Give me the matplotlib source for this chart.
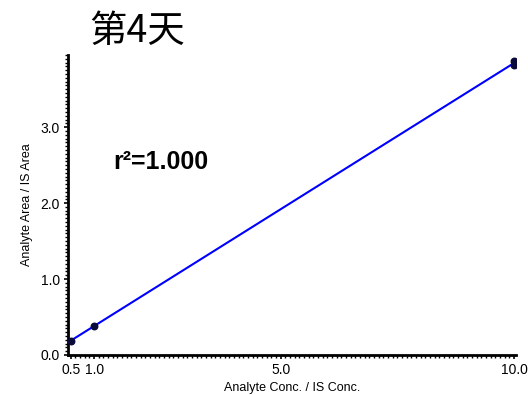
import numpy as np
import matplotlib
matplotlib.use('Agg')
import matplotlib.pyplot as plt
from matplotlib.ticker import MultipleLocator

plt.rcParams['font.family'] = ['Liberation Sans', 'DejaVu Sans']

# calibration standards (analyte/IS concentration ratio vs area ratio)
conc = [0.5, 1.0, 10.0, 10.0]
area = [0.19, 0.38, 3.82, 3.87]
xticks = [0.5, 1.0, 5.0, 10.0]
yticks = [0.0, 1.0, 2.0, 3.0]
title = '第4天'
r2_text = 'r²=1.000'

fig = plt.figure(figsize=(5.28, 3.95), dpi=100)
ax = fig.add_axes([68/528, 1 - 355/395, 448/528, 300/395])

# linear least-squares fit
slope, icept = np.polyfit(conc, area, 1)
xmin, xmax = 0.44, 10.04
xf = np.array([xmin, xmax])
ax.plot(xf, slope * xf + icept, color='#0000ff', lw=1.5, zorder=2)
ax.scatter(conc, area, s=22, color='#0a0a3a', zorder=3)

ax.set_xlim(xmin, xmax)
ax.set_ylim(0, 3.95)
ax.set_xticks(xticks)
ax.set_xticklabels(['%.1f' % v for v in xticks])
ax.set_yticks(yticks)
ax.set_yticklabels(['%.1f' % v for v in yticks])
ax.xaxis.set_minor_locator(MultipleLocator(0.1))
ax.yaxis.set_minor_locator(MultipleLocator(0.05))

for s in ['top', 'right']:
    ax.spines[s].set_visible(False)
for s in ['left', 'bottom']:
    ax.spines[s].set_linewidth(2)
ax.tick_params(which='major', length=3, width=1.2, labelsize=10, pad=3)
ax.tick_params(which='minor', length=2, width=1)

ax.set_xlabel('Analyte Conc. / IS Conc.', fontsize=9, labelpad=3)
ax.set_ylabel('Analyte Area / IS Area', fontsize=9, labelpad=5)

fig.text(137/528, 1 - 31/395, title, ha='center', va='center', fontsize=27,
         family=['Noto Sans CJK SC', 'DejaVu Sans'])
fig.text(113/528, 1 - 162/395, r2_text, ha='left', va='center', fontsize=18,
         fontweight='bold')

fig.savefig('out.png', dpi=100)
